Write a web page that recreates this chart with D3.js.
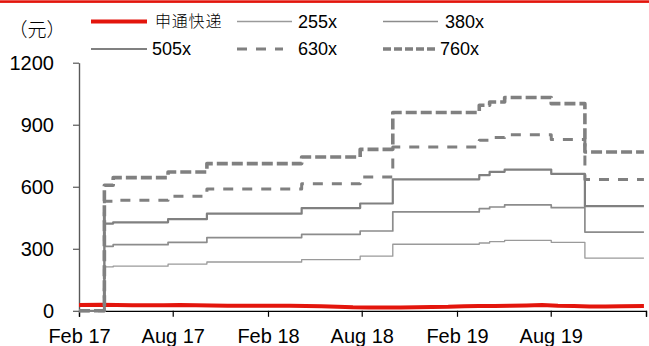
<!DOCTYPE html>
<html><head><meta charset="utf-8">
<script src="https://cdn.jsdelivr.net/npm/d3@7"></script>
<style>
html,body{margin:0;padding:0;background:#fff;}
svg{display:block;font-family:"Liberation Sans",Arial,sans-serif;}
</style></head>
<body><svg id="c" width="649" height="346"></svg>
<script>
// ---- data ----
const stepDates = ["2017-02-01","2017-03-22","2017-04-08","2017-07-23","2017-10-06","2018-04-07","2018-07-29","2018-09-30","2019-03-16","2019-04-05","2019-05-04","2019-08-02","2019-10-06","2020-01-28"];
const s255 = [0,212,216,226,236,248,264,322,328,335,341,331,255,255];
const s380 = [0,312,320,331,354,370,386,478,494,502,512,499,381,381];
const s505 = [0,422,428,443,470,497,519,636,656,672,683,662,506,506];
const s630 = [0,530,535,554,589,615,647,792,825,838,852,828,635,635];
const s760 = [0,607,644,671,712,744,781,959,994,1010,1032,1002,768,768];
const stoDates = ["2017-02-01","2017-03-15","2017-04-15","2017-05-15","2017-06-15","2017-07-15","2017-08-15","2017-09-15","2017-10-15","2017-11-15","2017-12-15",
 "2018-01-15","2018-02-15","2018-03-15","2018-04-15","2018-05-15","2018-06-15","2018-07-15","2018-08-15","2018-09-15","2018-10-15","2018-11-15","2018-12-15",
 "2019-01-15","2019-02-15","2019-03-15","2019-04-15","2019-05-15","2019-06-15","2019-07-15","2019-08-15","2019-09-15","2019-10-15","2019-11-15","2019-12-15","2020-01-28"];
const stoValues = [28,29,28,27,27,27,28,27,26,25,25, 25,24,24,23,22,20,17,16,16,16,17,18, 19,22,23,23,24,26,28,24,23,21,21,22,23];
const yTicks = [0,300,600,900,1200];
const xTickDates = ["2017-02-01","2017-08-01","2018-02-01","2018-08-01","2019-02-01","2019-08-01","2020-02-01"];
const legendNames = ["申通快递","255x","380x","505x","630x","760x"];
const unitLabel = "（元）";

// ---- styles ----
const styles = {
  "申通快递":{color:"#e3150c",w:4,dash:null},
  "255x":{color:"#9a9a9a",w:1.3,dash:null},
  "380x":{color:"#8c8c8c",w:1.7,dash:null},
  "505x":{color:"#808080",w:2.2,dash:null},
  "630x":{color:"#808080",w:3,dash:"10,9"},
  "760x":{color:"#808080",w:3.6,dash:"11,4"}
};

const parse = d3.timeParse("%Y-%m-%d");
const svg = d3.select("#c");
const L=79, R=646, T=62.7, B=310.8;
const x = d3.scaleTime().domain([parse("2017-02-01"), parse("2020-02-01")]).range([L,R]);
const y = d3.scaleLinear().domain([0,1200]).range([B,T]);

// top red rule
svg.append("rect").attr("x",0).attr("y",0.3).attr("width",649).attr("height",2.6).attr("fill","#e3150c");

// series
const series = [
  {name:"申通快递", pts: stoDates.map((d,i)=>[parse(d),stoValues[i]]), curve:d3.curveLinear},
  {name:"255x", pts: stepDates.map((d,i)=>[parse(d),s255[i]]), curve:d3.curveStepAfter},
  {name:"380x", pts: stepDates.map((d,i)=>[parse(d),s380[i]]), curve:d3.curveStepAfter},
  {name:"505x", pts: stepDates.map((d,i)=>[parse(d),s505[i]]), curve:d3.curveStepAfter},
  {name:"630x", pts: stepDates.map((d,i)=>[parse(d),s630[i]]), curve:d3.curveStepAfter},
  {name:"760x", pts: stepDates.map((d,i)=>[parse(d),s760[i]]), curve:d3.curveStepAfter}
];

// axes
const xAxis = d3.axisBottom(x).tickValues(xTickDates.map(parse)).tickSize(6)
  .tickFormat((d,i)=> i===xTickDates.length-1 ? "" : d3.timeFormat("%b %y")(d));
const gx = svg.append("g").attr("transform",`translate(0,${B})`).call(xAxis);
gx.select(".domain").attr("stroke","#000").attr("stroke-width",1.3);
gx.selectAll(".tick line").attr("stroke","#000").attr("stroke-width",1.2);
gx.selectAll(".tick text").attr("font-size",20).attr("fill","#000").attr("dy",null).attr("y",32).attr("font-family","Liberation Sans, Arial, sans-serif");

const yAxis = d3.axisLeft(y).tickValues(yTicks).tickSize(6).tickSizeOuter(0).tickFormat(d3.format("d"));
const gy = svg.append("g").attr("transform",`translate(${L},0)`).call(yAxis);
gy.select(".domain").attr("stroke","#595959").attr("stroke-width",1.4);
gy.selectAll(".tick line").attr("stroke","#595959").attr("stroke-width",1.2);
gy.selectAll(".tick text").attr("font-size",20).attr("fill","#000").attr("x",-25).attr("dy","0.35em").attr("font-family","Liberation Sans, Arial, sans-serif");

// lines
series.forEach(s=>{
  const st = styles[s.name];
  const line = d3.line().x(d=>x(d[0])).y(d=>y(d[1])).curve(s.curve);
  svg.append("path").datum(s.pts).attr("d",line).attr("fill","none")
    .attr("stroke",st.color).attr("stroke-width",st.w)
    .attr("stroke-dasharray",st.dash).attr("stroke-linejoin","round");
});

// unit label
svg.append("text").attr("x",37).attr("y",30).attr("dy","0.35em").attr("text-anchor","middle")
  .attr("font-family","Noto Sans CJK SC").attr("font-size",19).attr("font-weight",300).attr("fill","#000").text(unitLabel);

// legend
const legPos = [
  {lx:91, tx:155, y:21.5},
  {lx:237, tx:298, y:21.5},
  {lx:383, tx:445, y:21.5},
  {lx:91, tx:152, y:49},
  {lx:237, tx:298, y:49},
  {lx:383, tx:440, y:49}
];
const legLen = [56,55,55,56,46,54];
legendNames.forEach((n,i)=>{
  const st = styles[n], p = legPos[i];
  svg.append("line").attr("x1",p.lx).attr("x2",p.lx+legLen[i]).attr("y1",p.y).attr("y2",p.y)
    .attr("stroke",st.color).attr("stroke-width",st.w).attr("stroke-dasharray",
      n==="760x" ? "8,3" : st.dash);
  const t = svg.append("text").attr("x",p.tx).attr("y",p.y).attr("dy","0.35em").attr("fill","#000").text(n);
  if(n==="申通快递") t.attr("font-family","Noto Sans CJK SC").attr("font-size",16).attr("letter-spacing",0.8).attr("font-weight",300);
  else t.attr("font-size",18).attr("font-family","Liberation Sans, Arial, sans-serif");
});
</script></body></html>
